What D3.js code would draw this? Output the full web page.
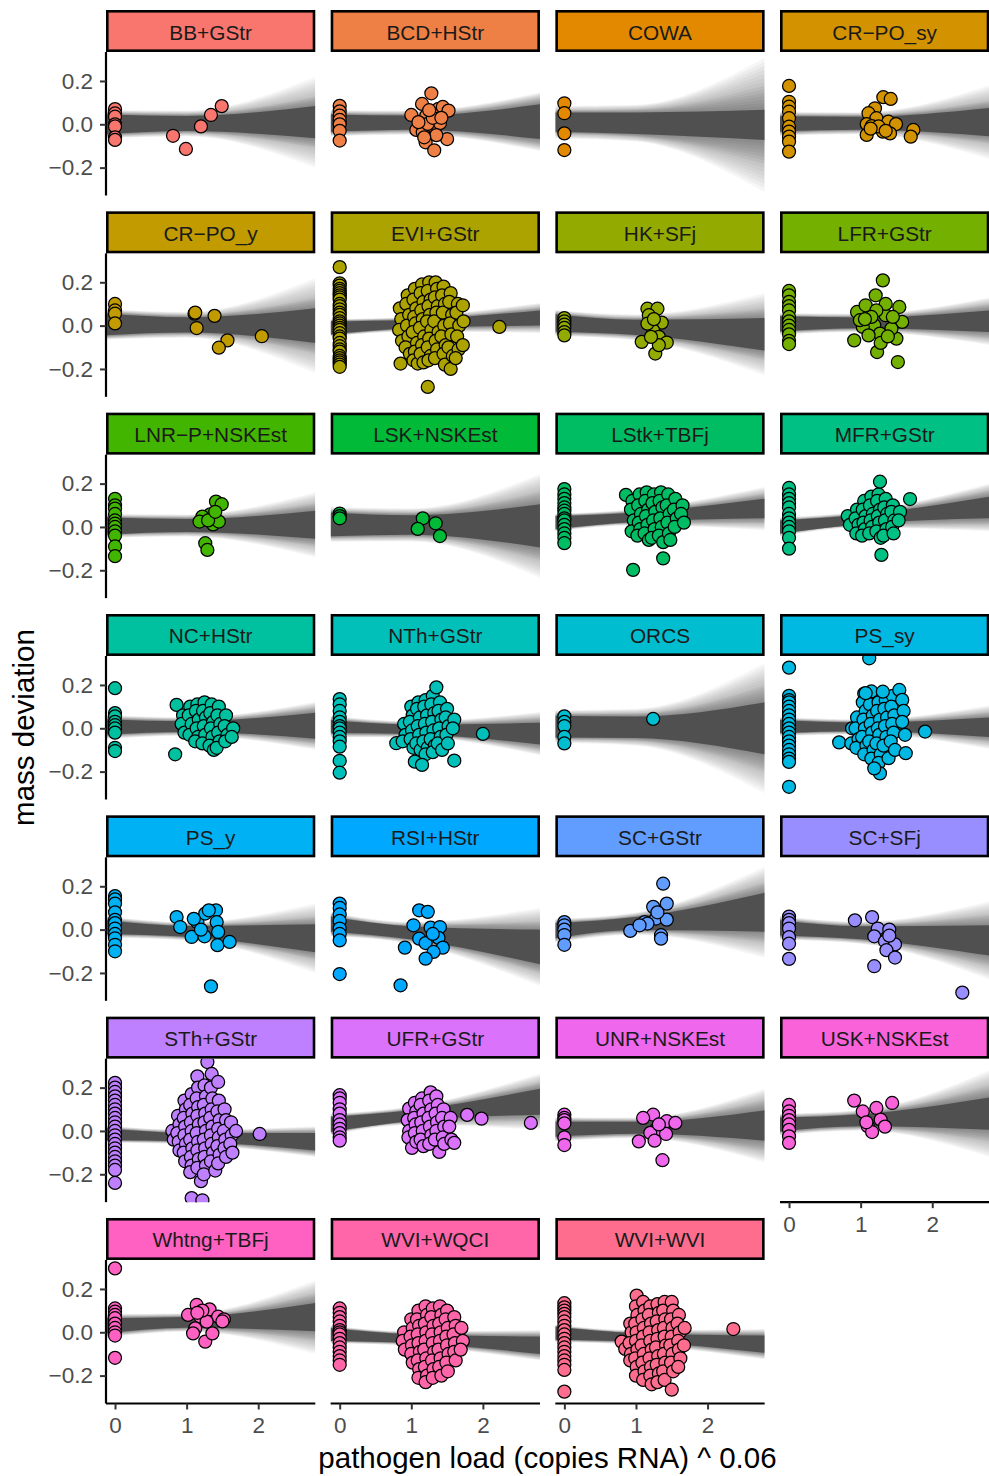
<!DOCTYPE html>
<html><head><meta charset="utf-8">
<script src="https://cdn.jsdelivr.net/npm/d3@7"></script>
<style>body{margin:0;background:#fff;} text{font-family:"Liberation Sans",Arial,sans-serif;}</style>
</head><body><svg id="chart" width="989" height="1476"></svg>
<script>
const facets = ["BB+GStr","BCD+HStr","COWA","CR\u2212PO_sy","CR\u2212PO_y","EVI+GStr","HK+SFj","LFR+GStr","LNR\u2212P+NSKEst","LSK+NSKEst","LStk+TBFj","MFR+GStr","NC+HStr","NTh+GStr","ORCS","PS_sy","PS_y","RSI+HStr","SC+GStr","SC+SFj","STh+GStr","UFR+GStr","UNR+NSKEst","USK+NSKEst","Whtng+TBFj","WVI+WQCI","WVI+WVI"];

// mass deviation of birds with zero pathogen load (x = 0)
const zeroLoadMass = [
 [0.07,0.05,0.035,0.0,-0.01,-0.06,-0.072],
 [0.085,0.06,0.04,0.02,0.0,-0.03,-0.075],
 [0.097,0.051,-0.042,-0.119],
 [0.177,0.104,0.081,0.058,0.028,-0.011,-0.034,-0.057,-0.08,-0.126],
 [0.1,0.07,0.055,0.01],
 [0.27,0.195,0.185,0.17,0.16,0.15,0.14,0.13,0.12,0.10,0.09,0.075,0.06,0.05,0.035,0.02,0.01,0.0,-0.01,-0.02,-0.035,-0.05,-0.06,-0.08,-0.095,-0.11,-0.12,-0.14,-0.15,-0.16,-0.17,-0.18,-0.19],
 [0.035,0.02,0.005,-0.01,-0.03,-0.045],
 [0.16,0.14,0.11,0.09,0.07,0.04,0.02,0.0,-0.02,-0.04,-0.07,-0.085],
 [0.13,0.1,0.085,0.06,0.03,0.015,0.0,-0.02,-0.04,-0.09,-0.135],
 [0.062,0.05,0.04],
 [0.175,0.15,0.13,0.11,0.09,0.075,0.06,0.04,0.03,0.01,-0.01,-0.03,-0.05,-0.075],
 [0.18,0.15,0.13,0.11,0.09,0.06,0.04,0.02,0.0,-0.02,-0.05,-0.1],
 [0.185,0.07,0.055,0.03,0.015,0.0,-0.02,-0.09,-0.105],
 [0.135,0.11,0.08,0.05,0.03,0.01,0.0,-0.02,-0.04,-0.06,-0.085,-0.15,-0.205],
 [0.055,0.03,0.01,-0.04,-0.07],
 [0.28,0.15,0.13,0.12,0.1,0.08,0.06,0.04,0.02,0.0,-0.02,-0.04,-0.06,-0.08,-0.1,-0.12,-0.14,-0.155,-0.27],
 [0.155,0.14,0.12,0.08,0.045,0.03,0.005,-0.02,-0.04,-0.07,-0.1],
 [0.12,0.1,0.07,0.04,0.005,-0.02,-0.05,-0.205],
 [0.035,0.02,0.0,-0.025,-0.07],
 [0.06,0.045,0.03,0.005,-0.035,-0.065,-0.135],
 [0.222,0.2,0.18,0.16,0.14,0.12,0.1,0.08,0.06,0.04,0.02,0.0,-0.02,-0.04,-0.06,-0.08,-0.1,-0.12,-0.14,-0.16,-0.18,-0.24],
 [0.165,0.15,0.13,0.1,0.08,0.05,0.03,0.01,-0.01,-0.03,-0.045],
 [0.075,0.06,0.05,0.035,-0.03,-0.065],
 [0.12,0.09,0.07,0.05,0.03,0.005,-0.025,-0.055],
 [0.295,0.11,0.095,0.08,0.065,0.04,0.02,0.0,-0.015,-0.118],
 [0.11,0.09,0.07,0.05,0.03,0.01,0.0,-0.01,-0.03,-0.05,-0.07,-0.09,-0.11,-0.13,-0.15],
 [0.134,0.115,0.1,0.085,0.07,0.05,0.03,0.01,-0.01,-0.03,-0.05,-0.07,-0.09,-0.11,-0.13,-0.15,-0.174,-0.274]
];

// [pathogen load ^ 0.06, mass deviation] of infected birds
const infectedPoints = [
 [[0.81,-0.053],[0.99,-0.114],[1.2,-0.01],[1.34,0.043],[1.49,0.084]],
 [[1.28,0.143],[1.15,0.094],[1.0,0.043],[1.21,0.04],[1.38,0.071],[1.44,0.08],[1.52,0.063],[1.07,-0.026],[1.16,-0.037],[1.32,-0.014],[1.4,0.005],[1.23,0.002],[1.5,-0.068],[1.2,-0.083],[1.32,-0.12],[1.3,0.03],[1.25,0.065],[1.1,0.01],[1.35,-0.05],[1.42,0.03],[1.18,-0.06]],
 [],
 [[1.317,0.125],[1.42,0.117],[1.2,0.074],[1.11,0.051],[1.22,0.028],[1.085,0.001],[1.155,-0.008],[1.317,-0.016],[1.387,0.012],[1.494,0.001],[1.31,-0.034],[1.41,-0.042],[1.085,-0.049],[1.736,-0.026],[1.7,-0.057],[1.25,-0.01],[1.35,-0.03],[1.14,-0.02]],
 [[1.11,0.055],[1.12,0.06],[1.14,-0.011],[1.39,0.045],[1.57,-0.068],[1.45,-0.102],[2.05,-0.049]],
 [[0.84,0.08],[0.86,0.03],[0.83,-0.02],[0.87,-0.07],[0.85,-0.175],[0.95,0.14],[0.93,0.1],[0.97,0.05],[0.94,0.0],[0.96,-0.05],[0.92,-0.1],[0.98,-0.13],[1.05,0.17],[1.03,0.12],[1.07,0.08],[1.04,0.04],[1.06,0.01],[1.02,-0.03],[1.08,-0.08],[1.05,-0.12],[1.03,-0.16],[1.09,-0.175],[1.15,0.19],[1.13,0.15],[1.17,0.11],[1.14,0.07],[1.16,0.03],[1.12,-0.01],[1.18,-0.05],[1.15,-0.09],[1.13,-0.13],[1.17,-0.17],[1.25,0.2],[1.23,0.16],[1.27,0.12],[1.24,0.09],[1.26,0.05],[1.22,0.02],[1.28,-0.02],[1.25,-0.06],[1.23,-0.1],[1.27,-0.14],[1.24,-0.16],[1.34,0.2],[1.36,0.17],[1.33,0.13],[1.37,0.09],[1.35,0.06],[1.32,0.02],[1.38,-0.03],[1.34,-0.07],[1.36,-0.11],[1.33,-0.15],[1.45,0.18],[1.43,0.14],[1.47,0.1],[1.44,0.06],[1.46,0.0],[1.42,-0.05],[1.48,-0.09],[1.45,-0.13],[1.47,-0.18],[1.55,0.15],[1.53,0.11],[1.57,0.05],[1.54,0.01],[1.56,-0.04],[1.52,-0.1],[1.58,-0.14],[1.55,-0.2],[1.65,0.1],[1.63,0.06],[1.67,0.0],[1.64,-0.05],[1.66,-0.11],[1.62,-0.15],[1.72,0.094],[1.73,0.02],[1.72,-0.09],[2.23,-0.006],[1.23,-0.283]],
 [[1.16,0.078],[1.3,0.078],[1.18,0.048],[1.36,0.014],[1.24,-0.022],[1.08,-0.075],[1.32,-0.052],[1.43,-0.078],[1.27,-0.129],[1.16,0.009],[1.32,-0.09],[1.21,-0.052],[1.25,0.03]],
 [[1.31,0.209],[1.21,0.14],[0.95,0.063],[1.54,0.086],[1.58,0.017],[0.91,-0.068],[1.5,-0.06],[1.23,-0.122],[1.52,-0.168],[1.07,0.094],[1.35,0.048],[1.19,0.002],[1.03,-0.006],[1.43,-0.014],[1.27,-0.037],[1.11,-0.045],[1.35,0.1],[0.99,0.025],[1.22,0.07],[1.28,-0.08],[1.45,0.04],[1.15,0.04],[1.38,-0.05],[1.06,0.03]],
 [[1.41,0.117],[1.49,0.105],[1.26,0.037],[1.33,0.058],[1.37,0.012],[1.22,0.048],[1.45,0.025],[1.26,-0.075],[1.29,-0.106],[1.18,0.025],[1.3,0.03],[1.4,0.07]],
 [[1.16,0.04],[1.34,0.017],[1.09,-0.009],[1.4,-0.042]],
 [[0.86,0.148],[0.95,0.12],[0.93,0.08],[0.97,0.03],[0.94,-0.02],[1.05,0.15],[1.03,0.1],[1.07,0.06],[1.04,0.02],[1.06,-0.01],[1.02,-0.04],[1.15,0.16],[1.13,0.12],[1.17,0.08],[1.14,0.05],[1.16,0.01],[1.12,-0.03],[1.18,-0.06],[1.25,0.15],[1.23,0.11],[1.27,0.07],[1.24,0.03],[1.26,-0.01],[1.22,-0.05],[1.35,0.16],[1.33,0.12],[1.37,0.09],[1.34,0.04],[1.36,0.0],[1.32,-0.04],[1.38,-0.07],[1.45,0.15],[1.43,0.1],[1.47,0.06],[1.44,0.02],[1.46,-0.03],[1.48,-0.06],[1.55,0.13],[1.53,0.08],[1.57,0.04],[1.54,0.0],[1.65,0.1],[1.63,0.06],[1.67,0.02],[0.96,-0.198],[1.38,-0.145]],
 [[0.82,0.05],[0.85,0.01],[0.95,0.08],[0.93,0.04],[0.97,0.01],[0.94,-0.03],[1.05,0.12],[1.03,0.08],[1.07,0.05],[1.04,0.02],[1.06,-0.01],[1.02,-0.04],[1.15,0.14],[1.13,0.1],[1.17,0.06],[1.14,0.03],[1.16,0.0],[1.12,-0.03],[1.25,0.15],[1.23,0.12],[1.27,0.08],[1.24,0.05],[1.26,0.02],[1.22,-0.02],[1.28,-0.05],[1.35,0.13],[1.33,0.09],[1.37,0.06],[1.34,0.03],[1.36,-0.01],[1.32,-0.04],[1.45,0.1],[1.43,0.07],[1.47,0.03],[1.44,0.0],[1.46,-0.03],[1.55,0.07],[1.53,0.03],[1.27,0.209],[1.69,0.129],[1.29,-0.129]],
 [[0.86,0.108],[0.84,-0.12],[0.95,0.06],[0.93,0.02],[0.97,-0.02],[1.05,0.1],[1.03,0.06],[1.07,0.02],[1.04,-0.03],[1.15,0.11],[1.13,0.08],[1.17,0.04],[1.14,0.0],[1.16,-0.04],[1.12,-0.06],[1.25,0.12],[1.23,0.08],[1.27,0.05],[1.24,0.01],[1.26,-0.03],[1.22,-0.07],[1.35,0.11],[1.33,0.07],[1.37,0.03],[1.34,0.0],[1.36,-0.04],[1.32,-0.08],[1.38,-0.1],[1.45,0.1],[1.43,0.06],[1.47,0.02],[1.44,-0.02],[1.46,-0.06],[1.42,-0.09],[1.55,0.06],[1.53,0.01],[1.57,-0.03],[1.54,-0.06],[1.65,0.0],[1.63,-0.04]],
 [[0.79,-0.069],[0.9,0.02],[0.92,-0.03],[0.88,-0.06],[1.0,0.1],[1.02,0.06],[0.98,0.03],[1.01,-0.01],[0.99,-0.05],[1.03,-0.09],[1.1,0.12],[1.08,0.09],[1.12,0.05],[1.09,0.01],[1.11,-0.03],[1.07,-0.07],[1.13,-0.1],[1.05,-0.154],[1.2,0.13],[1.18,0.1],[1.22,0.06],[1.19,0.02],[1.21,-0.02],[1.17,-0.06],[1.23,-0.09],[1.2,-0.12],[1.15,-0.169],[1.3,0.15],[1.28,0.11],[1.32,0.07],[1.29,0.03],[1.31,-0.01],[1.27,-0.05],[1.33,-0.08],[1.3,-0.11],[1.35,0.189],[1.4,0.12],[1.38,0.08],[1.42,0.04],[1.39,0.0],[1.41,-0.04],[1.37,-0.07],[1.43,-0.1],[1.5,0.09],[1.48,0.05],[1.52,0.01],[1.49,-0.03],[1.51,-0.07],[1.6,0.04],[1.58,0.0],[1.6,-0.149],[2.0,-0.026]],
 [[1.24,0.043]],
 [[0.7,-0.065],[0.87,-0.07],[0.88,0.0],[0.95,0.05],[0.93,0.0],[0.97,-0.05],[0.94,-0.09],[1.05,0.16],[1.03,0.12],[1.07,0.08],[1.04,0.04],[1.06,0.0],[1.02,-0.04],[1.08,-0.08],[1.05,-0.12],[1.12,0.323],[1.15,0.17],[1.13,0.11],[1.17,0.06],[1.14,0.02],[1.16,-0.02],[1.12,-0.06],[1.18,-0.1],[1.15,-0.14],[1.25,0.12],[1.23,0.08],[1.27,0.04],[1.24,0.0],[1.26,-0.03],[1.22,-0.07],[1.28,-0.12],[1.25,-0.16],[1.27,-0.208],[1.35,0.13],[1.33,0.09],[1.37,0.05],[1.34,0.01],[1.36,-0.04],[1.32,-0.08],[1.39,-0.138],[1.19,-0.185],[1.45,0.15],[1.43,0.1],[1.47,0.06],[1.44,0.02],[1.46,-0.02],[1.42,-0.06],[1.48,-0.1],[1.54,0.177],[1.58,0.131],[1.31,0.169],[1.07,0.162],[1.6,0.08],[1.58,0.03],[1.62,-0.03],[1.63,-0.115],[1.9,-0.015]],
 [[0.86,0.058],[0.91,0.012],[1.07,-0.034],[1.15,0.034],[1.26,0.074],[1.41,0.089],[1.42,0.035],[1.44,-0.011],[1.25,-0.031],[1.43,-0.072],[1.6,-0.057],[1.34,-0.262],[1.31,0.089],[1.1,0.05],[1.2,0.0]],
 [[1.11,0.089],[1.23,0.082],[1.03,0.02],[1.27,0.009],[1.4,0.012],[1.11,-0.042],[1.2,-0.062],[1.38,-0.038],[1.44,-0.083],[1.31,-0.103],[1.2,-0.134],[0.91,-0.083],[0.85,-0.257],[1.3,-0.02]],
 [[1.38,0.212],[1.24,0.105],[1.43,0.12],[1.28,0.051],[1.43,0.046],[1.12,0.035],[0.92,-0.006],[1.35,-0.026],[1.35,-0.042],[1.16,0.028],[1.05,0.02],[1.3,0.08]],
 [[0.92,0.043],[1.16,0.058],[1.24,0.005],[1.4,0.0],[1.19,-0.031],[1.34,-0.054],[1.48,-0.068],[1.36,-0.095],[1.48,-0.129],[1.19,-0.169],[2.42,-0.291],[1.4,-0.028]],
 [[0.8,0.0],[0.82,-0.04],[0.88,0.07],[0.9,0.03],[0.87,-0.01],[0.89,-0.05],[0.9,-0.09],[0.97,0.14],[0.99,0.1],[0.96,0.06],[0.98,0.02],[0.97,-0.02],[0.99,-0.06],[0.96,-0.1],[0.98,-0.14],[1.07,0.17],[1.05,0.12],[1.08,0.08],[1.06,0.04],[1.07,0.0],[1.05,-0.04],[1.08,-0.08],[1.06,-0.12],[1.07,-0.16],[1.05,-0.19],[1.07,-0.31],[1.15,0.252],[1.16,0.2],[1.14,0.15],[1.16,0.11],[1.15,0.07],[1.17,0.03],[1.14,-0.01],[1.16,-0.05],[1.15,-0.09],[1.17,-0.13],[1.15,-0.17],[1.22,-0.32],[1.2,-0.232],[1.25,0.21],[1.27,0.16],[1.24,0.12],[1.26,0.08],[1.25,0.04],[1.27,0.0],[1.24,-0.04],[1.26,-0.08],[1.25,-0.12],[1.27,-0.16],[1.24,-0.2],[1.29,0.318],[1.35,0.263],[1.34,0.2],[1.36,0.15],[1.35,0.1],[1.33,0.06],[1.36,0.02],[1.34,-0.02],[1.35,-0.06],[1.37,-0.1],[1.34,-0.14],[1.4,-0.183],[1.44,0.226],[1.45,0.14],[1.43,0.09],[1.46,0.05],[1.44,0.01],[1.45,-0.03],[1.43,-0.07],[1.46,-0.11],[1.44,-0.15],[1.53,0.1],[1.55,0.05],[1.52,0.0],[1.54,-0.04],[1.53,-0.08],[1.55,-0.12],[1.62,0.04],[1.63,-0.02],[1.61,-0.06],[1.64,-0.1],[1.69,0.0],[2.02,-0.014]],
 [[0.97,0.103],[0.95,0.05],[0.97,0.0],[0.96,-0.03],[1.01,-0.078],[1.05,0.13],[1.07,0.09],[1.04,0.06],[1.06,0.03],[1.05,-0.01],[1.07,-0.05],[1.15,0.15],[1.13,0.12],[1.17,0.08],[1.14,0.04],[1.16,0.0],[1.13,-0.04],[1.17,-0.07],[1.27,0.178],[1.25,0.14],[1.28,0.1],[1.24,0.06],[1.26,0.02],[1.28,-0.02],[1.25,-0.06],[1.35,0.16],[1.37,0.12],[1.34,0.08],[1.36,0.04],[1.35,0.0],[1.33,-0.04],[1.39,-0.097],[1.45,0.1],[1.43,0.06],[1.46,0.02],[1.44,-0.03],[1.46,-0.06],[1.55,0.06],[1.53,0.02],[1.56,-0.04],[1.6,-0.055],[1.78,0.074],[1.98,0.057],[2.67,0.037]],
 [[1.24,0.075],[1.1,0.06],[1.43,0.045],[1.55,0.037],[1.28,0.006],[1.2,-0.009],[1.42,-0.014],[1.26,-0.045],[1.04,-0.048],[1.37,-0.135],[1.32,0.03]],
 [[0.91,0.14],[1.44,0.129],[1.03,0.09],[1.22,0.106],[1.28,0.052],[1.1,0.022],[1.16,-0.005],[1.34,0.02],[1.08,0.04]],
 [[1.02,0.08],[1.14,0.126],[1.19,0.072],[1.32,0.106],[1.44,0.072],[1.52,0.06],[1.12,0.018],[1.09,-0.005],[1.26,-0.043],[1.36,-0.005],[1.28,0.049],[1.5,0.05],[1.22,0.1],[1.15,0.09]],
 [[0.9,0.0],[0.88,-0.04],[0.91,-0.08],[1.0,0.06],[1.02,0.02],[0.99,-0.02],[1.01,-0.06],[1.0,-0.1],[1.02,-0.14],[1.1,0.1],[1.08,0.06],[1.11,0.03],[1.09,-0.01],[1.1,-0.05],[1.12,-0.09],[1.09,-0.13],[1.11,-0.17],[1.1,-0.21],[1.2,0.12],[1.22,0.08],[1.19,0.04],[1.21,0.0],[1.2,-0.04],[1.18,-0.08],[1.21,-0.12],[1.19,-0.16],[1.22,-0.2],[1.2,-0.23],[1.3,0.11],[1.28,0.07],[1.31,0.03],[1.29,-0.01],[1.3,-0.05],[1.32,-0.09],[1.29,-0.13],[1.31,-0.17],[1.3,-0.21],[1.4,0.12],[1.42,0.08],[1.39,0.04],[1.41,0.0],[1.4,-0.04],[1.38,-0.08],[1.41,-0.12],[1.39,-0.16],[1.42,-0.2],[1.5,0.1],[1.48,0.06],[1.51,0.02],[1.49,-0.02],[1.5,-0.06],[1.52,-0.1],[1.49,-0.14],[1.51,-0.18],[1.6,0.07],[1.62,0.03],[1.59,-0.01],[1.61,-0.05],[1.6,-0.09],[1.62,-0.13],[1.7,0.02],[1.72,-0.04],[1.69,-0.08]],
 [[0.8,-0.043],[0.85,-0.077],[0.92,0.04],[0.94,0.0],[0.91,-0.05],[0.93,-0.1],[0.92,-0.13],[1.01,0.169],[1.0,0.12],[1.02,0.08],[0.99,0.04],[1.01,0.0],[1.0,-0.04],[1.02,-0.08],[0.99,-0.12],[1.01,-0.16],[1.0,-0.2],[1.1,0.14],[1.12,0.1],[1.09,0.06],[1.11,0.02],[1.1,-0.02],[1.08,-0.06],[1.11,-0.1],[1.09,-0.14],[1.12,-0.18],[1.1,-0.22],[1.2,0.12],[1.18,0.08],[1.21,0.04],[1.19,0.0],[1.2,-0.04],[1.22,-0.08],[1.19,-0.12],[1.21,-0.16],[1.2,-0.2],[1.22,-0.24],[1.3,0.13],[1.32,0.09],[1.29,0.05],[1.31,0.01],[1.3,-0.03],[1.28,-0.07],[1.31,-0.11],[1.29,-0.15],[1.32,-0.19],[1.3,-0.23],[1.4,0.14],[1.38,0.1],[1.41,0.06],[1.39,0.02],[1.4,-0.02],[1.42,-0.06],[1.39,-0.1],[1.41,-0.14],[1.38,-0.18],[1.4,-0.22],[1.5,0.14],[1.52,0.1],[1.49,0.06],[1.51,0.02],[1.5,-0.02],[1.48,-0.06],[1.51,-0.1],[1.49,-0.14],[1.52,-0.18],[1.5,-0.265],[1.6,0.08],[1.58,0.04],[1.61,0.0],[1.59,-0.04],[1.6,-0.08],[1.62,-0.12],[1.59,-0.16],[1.68,0.02],[1.67,-0.06],[2.36,0.015]]
];

// posterior fit fan: centre at left / right edge
const fanCenter = [[0.0,0.01],[0.005,0.012],[0.01,-0.003],[0.002,0.01],[0.006,0.0],[-0.01,0.035],[0.012,-0.04],[0.008,0.02],[0.005,0.01],[0.012,0.005],[0.02,0.085],[0.0,0.09],[0.006,0.012],[0.008,-0.025],[0.008,0.0],[0.008,0.005],[0.012,-0.04],[0.025,-0.08],[-0.005,0.08],[0.008,-0.05],[-0.015,-0.05],[0.03,0.135],[0.008,0.025],[0.03,0.08],[0.03,0.07],[-0.01,-0.06],[-0.005,-0.055]];
// dense core half-width at left edge, x = 1, right edge
const fanCore = [[0.045,0.035,0.075],[0.04,0.033,0.08],[0.045,0.05,0.07],[0.035,0.03,0.065],[0.05,0.035,0.08],[0.03,0.02,0.035],[0.04,0.035,0.075],[0.035,0.025,0.05],[0.04,0.03,0.065],[0.055,0.045,0.1],[0.03,0.022,0.045],[0.03,0.022,0.05],[0.035,0.025,0.06],[0.03,0.022,0.05],[0.05,0.05,0.12],[0.03,0.02,0.045],[0.032,0.025,0.065],[0.035,0.03,0.08],[0.035,0.03,0.09],[0.035,0.03,0.07],[0.028,0.02,0.04],[0.035,0.025,0.06],[0.035,0.028,0.07],[0.032,0.028,0.075],[0.035,0.025,0.065],[0.03,0.02,0.04],[0.03,0.02,0.04]];
// medium-density half-width at left / right edge
const fanMid = [[0.055,0.12],[0.05,0.11],[0.055,0.18],[0.045,0.1],[0.06,0.13],[0.035,0.05],[0.05,0.12],[0.04,0.08],[0.045,0.1],[0.065,0.16],[0.035,0.07],[0.035,0.08],[0.045,0.085],[0.04,0.075],[0.06,0.2],[0.035,0.07],[0.04,0.1],[0.045,0.12],[0.045,0.14],[0.045,0.12],[0.032,0.055],[0.04,0.09],[0.045,0.12],[0.04,0.13],[0.045,0.11],[0.035,0.055],[0.035,0.055]];
// faint outermost lines half-width at left / right edge
const fanOuter = [[0.065,0.21],[0.06,0.135],[0.075,0.31],[0.055,0.17],[0.07,0.22],[0.04,0.07],[0.06,0.19],[0.05,0.11],[0.055,0.15],[0.08,0.24],[0.04,0.1],[0.045,0.11],[0.055,0.11],[0.05,0.1],[0.075,0.3],[0.045,0.1],[0.05,0.16],[0.055,0.18],[0.055,0.21],[0.055,0.18],[0.04,0.07],[0.05,0.13],[0.055,0.17],[0.05,0.2],[0.055,0.17],[0.04,0.07],[0.04,0.07]];

const yTicks = [-0.2, 0.0, 0.2];
const xTicks = [0, 1, 2];
const xTitle = "pathogen load (copies RNA) ^ 0.06";
const yTitle = "mass deviation";

// ggplot2 hue palette (polar LUV)
function hueColor(h, c, l) {
  const Xn = 95.047, Yn = 100, Zn = 108.883;
  const d = Xn + 15*Yn + 3*Zn, un = 4*Xn/d, vn = 9*Yn/d;
  const hr = h*Math.PI/180, u = c*Math.cos(hr), v = c*Math.sin(hr);
  const Y = Yn*Math.pow((l+16)/116, 3);
  const up = u/(13*l) + un, vp = v/(13*l) + vn;
  const X = 9*Y*up/(4*vp), Z = -X/3 - 5*Y + 3*Y/vp;
  const x = X/100, y = Y/100, z = Z/100;
  const lin = [3.240479*x - 1.537150*y - 0.498535*z, -0.969256*x + 1.875992*y + 0.041556*z, 0.055648*x - 0.204043*y + 1.057311*z];
  const g = lin.map(t => { t = t <= 0.0031308 ? 12.92*t : 1.055*Math.pow(t, 1/2.4) - 0.055; return Math.round(Math.max(0, Math.min(1, t))*255); });
  return d3.rgb(g[0], g[1], g[2]).formatHex();
}
const n = facets.length;
const colors = facets.map((f, i) => hueColor(15 + 360*i/n, 100, 65));

const svg = d3.select("#chart");
const left0 = 106, colPitch = 224.67, panelW = 209.3;
const top0 = 10, rowPitch = 201.33, stripH = 42, panelH = 143.5;
const xDom = [-0.126, 2.797], yDom = [-0.3287, 0.3337];
const fanGray = "#4D4D4D";
const FONT = '"Liberation Sans",Arial,sans-serif';

facets.forEach((name, i) => {
  const r = Math.floor(i/4), c = i % 4;
  const L = left0 + c*colPitch, sT = top0 + r*rowPitch, pT = sT + stripH, pB = pT + panelH;
  const x = d3.scaleLinear().domain(xDom).range([L, L + panelW]);
  const y = d3.scaleLinear().domain(yDom).range([pB, pT]);
  const g = svg.append("g");
  const clipId = "clip" + i;
  g.append("clipPath").attr("id", clipId).append("rect").attr("x", L).attr("y", pT).attr("width", panelW).attr("height", panelH);
  const pg = g.append("g").attr("clip-path", `url(#${clipId})`);

  // fan: many thin translucent layers from outer lines down to dense core
  const [cL, cR] = fanCenter[i];
  const center = xv => cL + (cR - cL)*(xv - xDom[0])/(xDom[1] - xDom[0]);
  const stations = [xDom[0], 1, xDom[1]];
  const core = fanCore[i];
  const mid = [fanMid[i][0], core[1]*1.3, fanMid[i][1]];
  const outer = [fanOuter[i][0], core[1]*1.7, fanOuter[i][1]];
  const area = d3.area().curve(d3.curveMonotoneX)
    .x(d => x(d.x)).y0(d => y(d.c - d.w)).y1(d => y(d.c + d.w));
  const K = 14;
  for (let k = 0; k < K; k++) {
    const t = 1 - k/K; // 1 = outer, 0 = core
    const w = stations.map((s, j) => t > 0.5
      ? mid[j] + (outer[j] - mid[j])*(t - 0.5)*2
      : core[j] + (mid[j] - core[j])*t*2);
    const pts = stations.map((s, j) => ({x: s, c: center(s), w: w[j]}));
    pg.append("path").datum(pts).attr("d", area).attr("fill", fanGray).attr("fill-opacity", t > 0.5 ? 0.05 : 0.085);
  }
  pg.append("path").datum(stations.map((s, j) => ({x: s, c: center(s), w: core[j]})))
    .attr("d", area).attr("fill", fanGray).attr("fill-opacity", 0.95);

  // points
  const pts = zeroLoadMass[i].map(v => [0, v]).concat(infectedPoints[i]);
  pg.selectAll("circle").data(pts).join("circle")
    .attr("cx", d => x(d[0])).attr("cy", d => y(d[1])).attr("r", 6.5)
    .attr("fill", colors[i]).attr("stroke", "#000").attr("stroke-width", 1.25);

  // strip
  g.append("rect").attr("x", L + 1.3).attr("y", sT + 1.3).attr("width", panelW - 2.6).attr("height", stripH - 2.6)
    .attr("fill", colors[i]).attr("stroke", "#000").attr("stroke-width", 2.6);
  g.append("text").attr("x", L + panelW/2).attr("y", sT + 29.5).attr("text-anchor", "middle")
    .attr("font-size", 20.8).attr("fill", "#1A1A1A").text(name);

  // y axis on first column
  if (c === 0) {
    const ax = g.append("g").attr("transform", `translate(${L},0)`)
      .call(d3.axisLeft(y).tickValues(yTicks).tickSize(6).tickPadding(7)
        .tickFormat(v => (v < 0 ? "\u2212" : "") + Math.abs(v).toFixed(1)));
    ax.select(".domain").attr("stroke", "#000").attr("stroke-width", 2.2).attr("d", `M0,${pT}V${pB}`);
    ax.selectAll(".tick line").attr("stroke", "#333").attr("stroke-width", 2);
    ax.selectAll(".tick text").attr("fill", "#4D4D4D").attr("font-size", 22.5).attr("font-family", FONT);
  }
  // x axis on bottom panels
  if (i + 4 >= n) {
    const ax = g.append("g").attr("transform", `translate(0,${pB})`)
      .call(d3.axisBottom(x).tickValues(xTicks).tickSize(6).tickPadding(8).tickFormat(d3.format("d")));
    ax.select(".domain").attr("stroke", "#000").attr("stroke-width", 2.2).attr("d", `M${L},0H${L + panelW}`);
    ax.selectAll(".tick line").attr("stroke", "#333").attr("stroke-width", 2);
    ax.selectAll(".tick text").attr("fill", "#4D4D4D").attr("font-size", 22.5).attr("font-family", FONT);
  }
});

svg.append("text").attr("x", (left0 + 989)/2).attr("y", 1467.5).attr("text-anchor", "middle")
  .attr("font-size", 29.5).attr("fill", "#000").text(xTitle);
svg.append("text").attr("transform", "translate(33.5,727.5) rotate(-90)").attr("text-anchor", "middle")
  .attr("font-size", 29.5).attr("fill", "#000").text(yTitle);
</script></body></html>
